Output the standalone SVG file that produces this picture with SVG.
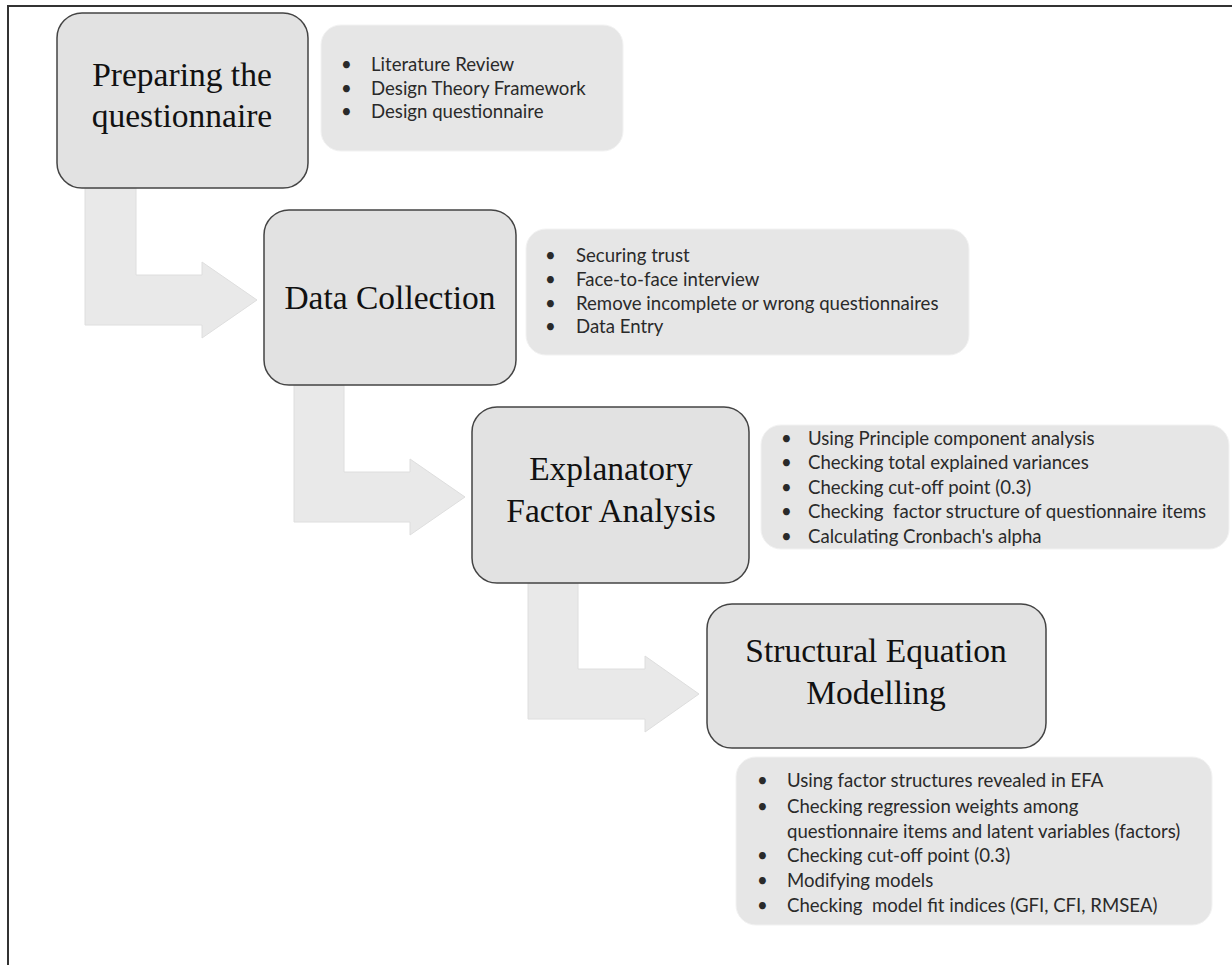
<svg xmlns="http://www.w3.org/2000/svg" width="1232" height="965" viewBox="0 0 1232 965">
<style>
.bg{fill:#ffffff}
.frame{fill:none;stroke:#333333;stroke-width:2}
.arrow{fill:#e9e9e9;stroke:#dedede;stroke-width:1}
.step{fill:#e2e2e2;stroke:#444444;stroke-width:1.5}
.note{fill:#e6e6e6;stroke:#f2f2f2;stroke-width:1}
.title{font-family:"Liberation Serif","Times New Roman",serif;font-size:33.5px;fill:#111111;text-anchor:middle}
.item{font-family:Lato,"Liberation Sans",sans-serif;font-size:18.6px;fill:#2a2a2a}
</style>
<rect class="bg" x="0" y="0" width="1232" height="965"/>
<path class="frame" d="M8,965 V6 H1232"/>
<g id="connectors">
<path class="arrow" d="M85,188 H136 V275 H202 V262 L257,300 L202,338 V325 H85 Z"/>
<path class="arrow" d="M294,385 H344 V472 H410 V459 L465,497 L410,535 V522 H294 Z"/>
<path class="arrow" d="M528,583 H578 V669 H645 V656 L699,694 L645,732 V719 H528 Z"/>
</g>
<g id="step1">
<rect class="step" x="57" y="13" width="251" height="175" rx="25"/>
<text class="title" x="182" y="86">Preparing the</text>
<text class="title" x="182" y="127">questionnaire</text>
</g>
<g id="note1">
<rect class="note" x="321" y="25" width="302" height="126" rx="20"/>
<text class="item" x="341" y="71">•</text><text class="item" x="371" y="71">Literature Review</text>
<text class="item" x="341" y="95">•</text><text class="item" x="371" y="95">Design Theory Framework</text>
<text class="item" x="341" y="118">•</text><text class="item" x="371" y="118">Design questionnaire</text>
</g>
<g id="step2">
<rect class="step" x="264" y="210" width="252" height="175" rx="25"/>
<text class="title" x="390" y="309">Data Collection</text>
</g>
<g id="note2">
<rect class="note" x="526" y="229" width="443" height="126" rx="20"/>
<text class="item" x="545" y="262">•</text><text class="item" x="576" y="262">Securing trust</text>
<text class="item" x="545" y="286">•</text><text class="item" x="576" y="286">Face-to-face interview</text>
<text class="item" x="545" y="310">•</text><text class="item" x="576" y="310">Remove incomplete or wrong questionnaires</text>
<text class="item" x="545" y="333">•</text><text class="item" x="576" y="333">Data Entry</text>
</g>
<g id="step3">
<rect class="step" x="472" y="407" width="277" height="176" rx="25"/>
<text class="title" x="611" y="480">Explanatory</text>
<text class="title" x="611" y="522">Factor Analysis</text>
</g>
<g id="note3">
<rect class="note" x="761" y="425" width="468" height="124" rx="20"/>
<text class="item" x="781" y="445">•</text><text class="item" x="808" y="445">Using Principle component analysis</text>
<text class="item" x="781" y="469">•</text><text class="item" x="808" y="469">Checking total explained variances</text>
<text class="item" x="781" y="494">•</text><text class="item" x="808" y="494">Checking cut-off point (0.3)</text>
<text class="item" x="781" y="518">•</text><text class="item" x="808" y="518" xml:space="preserve">Checking  factor structure of questionnaire items</text>
<text class="item" x="781" y="543">•</text><text class="item" x="808" y="543">Calculating Cronbach's alpha</text>
</g>
<g id="step4">
<rect class="step" x="707" y="604" width="339" height="144" rx="25"/>
<text class="title" x="876" y="662">Structural Equation</text>
<text class="title" x="876" y="704">Modelling</text>
</g>
<g id="note4">
<rect class="note" x="736" y="757" width="476" height="168" rx="20"/>
<text class="item" x="757" y="787">•</text><text class="item" x="787" y="787">Using factor structures revealed in EFA</text>
<text class="item" x="757" y="813">•</text><text class="item" x="787" y="813">Checking regression weights among</text>
<text class="item" x="787" y="838">questionnaire items and latent variables (factors)</text>
<text class="item" x="757" y="862">•</text><text class="item" x="787" y="862">Checking cut-off point (0.3)</text>
<text class="item" x="757" y="887">•</text><text class="item" x="787" y="887">Modifying models</text>
<text class="item" x="757" y="912">•</text><text class="item" x="787" y="912" xml:space="preserve">Checking  model fit indices (GFI, CFI, RMSEA)</text>
</g>
</svg>
